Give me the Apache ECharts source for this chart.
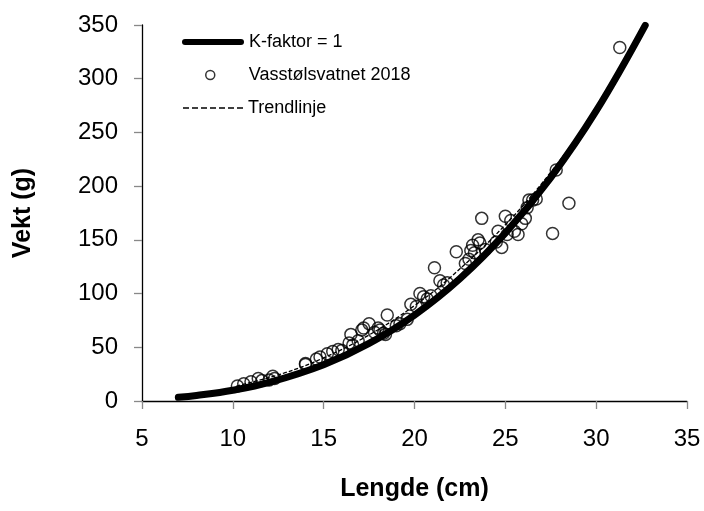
<!DOCTYPE html>
<html>
<head>
<meta charset="utf-8">
<script src="https://cdn.jsdelivr.net/npm/echarts@6/dist/echarts.min.js"></script>
<style>
html,body{margin:0;padding:0;background:#fff;}
#chart{width:704px;height:511px;}
</style>
</head>
<body>
<div id="chart"></div>
<script>
// Scatter data: length (cm), weight (g)
const fishLength = [10.25,10.6,11.0,11.4,11.6,12.0,12.2,12.3,14.0,14.0,14.6,14.8,15.2,15.5,15.8,16.0,16.4,16.5,16.6,16.9,17.1,17.2,17.5,17.8,18.0,18.1,18.3,18.5,18.4,19.0,19.2,19.6,19.8,20.1,20.3,20.5,20.7,20.9,21.1,21.4,21.6,21.8,22.3,22.8,23.0,23.1,23.2,23.3,23.5,23.6,23.7,23.9,24.5,24.6,24.8,25.0,25.1,25.3,25.5,25.7,25.9,26.2,26.3,26.5,26.7,26.1,27.6,27.8,28.5,31.3];
const fishWeight = [14,16,18,21,19,19.5,23,21,35,34,39,41,44,46,48,47,54,62,52,56,66,68,72,64,68,66,63,80,62,70,72,76,90,88,100,97,95,98,124,112,108,110,139,128,132,140,145,138,150,147,170,141,148,158,143,172,155,168,158,155,165,180,187,187,188,170,156,215,184,329];

// K-factor = 1 reference curve (read points)
const kLength = [7,8,10,12,15,17.5,20,22.5,25,27.5,30,32.7];
const kWeight = [3.4,5.1,10,17.3,33.8,53.6,80,113.9,156.3,208,270,349.7];

// Trend line (read points)
const trendLength = [10.2,12.8,15,17.5,20,22,25,27.5,30,31.3];
const trendWeight = [13.9,25.9,40.2,61.5,88.8,115.5,164,213,271,305];

const xTicks = {min:5, max:35, interval:5};
const yTicks = {min:0, max:350, interval:50};

const seriesNames = ['K-faktor = 1','Vasstølsvatnet 2018','Trendlinje'];

const zip = (a,b) => a.map((v,i)=>[v,b[i]]);
const FONT = 'Liberation Sans, Arial, sans-serif';

const thickIcon = 'path://M3,0 H59 A3,3 0 0 1 59,6 H3 A3,3 0 0 1 3,0 Z';
const dashIcon = 'path://M0,0h6v1.3h-6z M9,0h6v1.3h-6z M18,0h6v1.3h-6z M27,0h6v1.3h-6z M36,0h6v1.3h-6z M45,0h6v1.3h-6z M54,0h6v1.3h-6z';

const chart = echarts.init(document.getElementById('chart'), null, {renderer:'canvas'});
const legendBase = {
  orient:'horizontal', padding:0, symbolKeepAspect:false,
  textStyle:{fontFamily:FONT, fontSize:18, color:'#000'},
  selectedMode:false
};
chart.setOption({
  animation:false,
  backgroundColor:'#fff',
  grid:{left:142, right:17, top:25, bottom:110, containLabel:false},
  legend:[
    Object.assign({}, legendBase, {left:182, top:33, itemWidth:62, itemHeight:6,
      data:[{name:seriesNames[0], icon:thickIcon, itemStyle:{color:'#000', borderWidth:0}}]}),
    Object.assign({}, legendBase, {left:205, top:66, itemWidth:9, itemHeight:9,
      textStyle:{fontFamily:FONT, fontSize:18, color:'#000', padding:[0,0,0,29]},
      data:[{name:seriesNames[1], icon:'circle', itemStyle:{color:'rgba(0,0,0,0)', borderColor:'#000', borderWidth:1.5}}]}),
    Object.assign({}, legendBase, {left:183, top:99, itemWidth:60, itemHeight:1.3,
      data:[{name:seriesNames[2], icon:dashIcon, itemStyle:{color:'#000', borderWidth:0}}]})
  ],
  xAxis:{
    type:'value', min:xTicks.min, max:xTicks.max, interval:xTicks.interval,
    name:'Lengde (cm)', nameLocation:'middle', nameGap:76,
    nameTextStyle:{fontFamily:FONT, fontSize:25, fontWeight:'bold', color:'#000'},
    axisLine:{show:true, onZero:false, lineStyle:{color:'#000', width:1.3}},
    axisTick:{show:true, length:8, lineStyle:{color:'#888', width:1.3}},
    axisLabel:{fontFamily:FONT, fontSize:24, color:'#000', margin:26},
    splitLine:{show:false}
  },
  yAxis:{
    type:'value', min:yTicks.min, max:yTicks.max, interval:yTicks.interval,
    name:'Vekt (g)', nameLocation:'middle', nameGap:106, nameRotate:90,
    nameTextStyle:{fontFamily:FONT, fontSize:25, fontWeight:'bold', color:'#000'},
    axisLine:{show:true, onZero:false, lineStyle:{color:'#000', width:1.3}},
    axisTick:{show:true, length:8, lineStyle:{color:'#888', width:1.3}},
    axisLabel:{fontFamily:FONT, fontSize:24, color:'#000', margin:24},
    splitLine:{show:false}
  },
  series:[
    {
      name:seriesNames[0], type:'line', data:zip(kLength,kWeight), smooth:0.4,
      showSymbol:false, symbol:'none',
      lineStyle:{color:'#000', width:7, cap:'round'}, itemStyle:{color:'#000'}, z:2
    },
    {
      name:seriesNames[1], type:'scatter', data:zip(fishLength,fishWeight),
      symbol:'circle', symbolSize:12,
      itemStyle:{color:'rgba(0,0,0,0)', borderColor:'#000', borderWidth:1.5}, z:4
    },
    {
      name:seriesNames[2], type:'line', data:zip(trendLength,trendWeight), smooth:0.4,
      showSymbol:false, symbol:'none',
      lineStyle:{color:'#000', width:1.3, type:[4,2]}, itemStyle:{color:'#000'}, z:3
    }
  ]
});
</script>
</body>
</html>
